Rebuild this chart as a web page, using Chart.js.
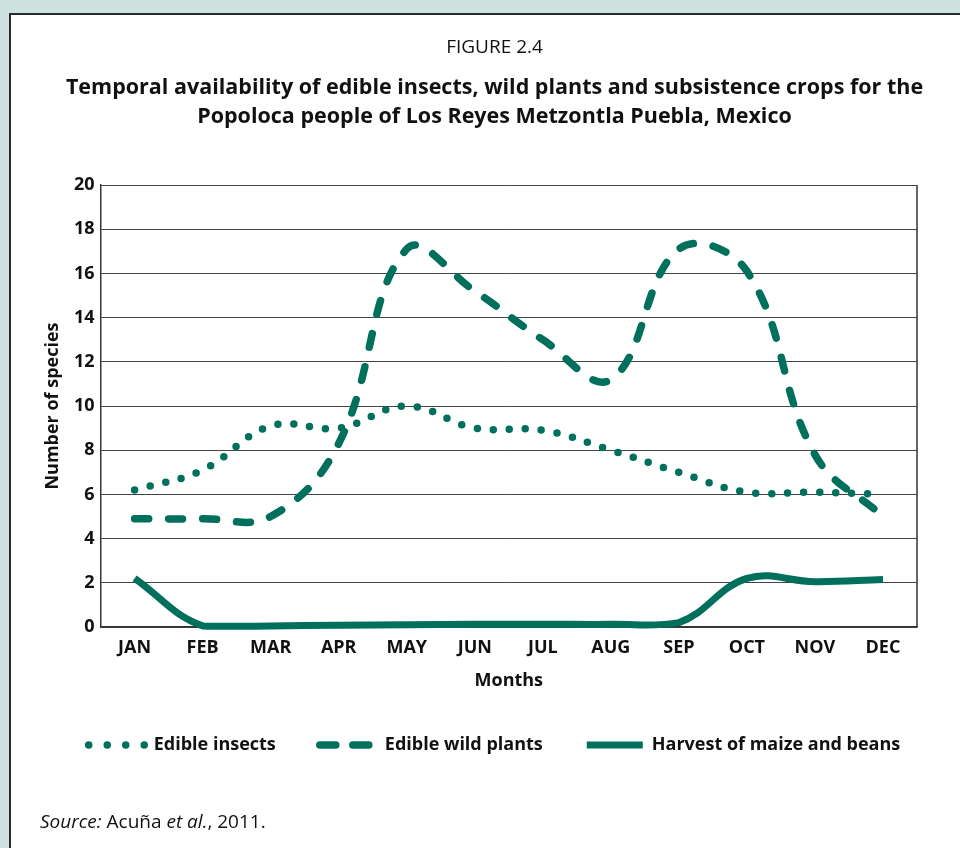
<!DOCTYPE html>
<html>
<head>
<meta charset="utf-8">
<script src="https://cdn.jsdelivr.net/npm/chart.js@4.4.1/dist/chart.umd.min.js"></script>
<style>
  html, body { margin: 0; padding: 0; }
  body { width: 960px; height: 848px; background: #cde2de; position: relative; overflow: hidden; font-family: 'Open Sans', sans-serif; }
  #panel { position: absolute; left: 9px; top: 13px; right: 0; bottom: 0; background: #fff; border-top: 2px solid #2a2a2a; border-left: 2px solid #2a2a2a; }
  #wrap { position: absolute; left: 0; top: 0; width: 960px; height: 848px; }
  #source { position: absolute; left: 40px; top: 808px; font-size: 19px; color: #111; }
</style>
</head>
<body>
<div id="panel"></div>
<div id="wrap"><canvas id="chart"></canvas></div>
<div id="source"><i>Source:</i> Acuña <i>et al.</i>, 2011.</div>
<script>
var months = ['JAN', 'FEB', 'MAR', 'APR', 'MAY', 'JUN', 'JUL', 'AUG', 'SEP', 'OCT', 'NOV', 'DEC'];
var insects = [6.2, 7.1, 9.1, 9.0, 10, 9, 8.9, 8, 7, 6.1, 6.1, 6];
var wildPlants = [4.9, 4.9, 5.0, 8.3, 17.1, 15.2, 13, 11.2, 17.1, 16.1, 7.8, 5];
var harvest = [2.2, 0.05, 0.05, 0.08, 0.1, 0.12, 0.13, 0.12, 0.2, 2.2, 2.05, 2.15];

var green = '#00705d';
var font = 'Open Sans';
// dash patterns of the legend samples (a little looser than on the plot)
var legendDash = [[0, 18.5], [16, 17], []];

// right edge of the plot frame
var frame = {
  id: 'frame',
  afterDatasetsDraw: function(chart) {
    var a = chart.chartArea, c = chart.ctx;
    c.save();
    c.strokeStyle = '#333';
    c.lineWidth = 1.5;
    c.beginPath();
    c.moveTo(a.right, a.top);
    c.lineTo(a.right, a.bottom);
    c.stroke();
    c.restore();
  }
};

// legend samples keep the dataset's line style
function legendLabels(chart) {
  var items = Chart.defaults.plugins.legend.labels.generateLabels(chart);
  items.forEach(function(item) {
    var ds = chart.data.datasets[item.datasetIndex];
    item.lineDash = legendDash[item.datasetIndex];
    item.lineCap = ds.borderCapStyle || 'butt';
    item.lineWidth = ds.borderWidth;
    item.strokeStyle = ds.borderColor;
  });
  return items;
}

function createChart() {
  var ctx = document.getElementById('chart').getContext('2d');
  new Chart(ctx, {
    type: 'line',
    data: {
      labels: months,
      datasets: [{
        label: 'Edible insects',
        data: insects,
        borderColor: green,
        backgroundColor: green,
        borderWidth: 7.5,
        borderDash: [0, 16],
        borderCapStyle: 'round',
        tension: 0.4,
        pointRadius: 0,
        clip: 10
      }, {
        label: 'Edible wild plants',
        data: wildPlants,
        borderColor: green,
        backgroundColor: green,
        borderWidth: 7.5,
        borderDash: [14, 20],
        borderCapStyle: 'round',
        tension: 0.4,
        pointRadius: 0,
        clip: 10
      }, {
        label: 'Harvest of maize and beans',
        data: harvest,
        borderColor: green,
        backgroundColor: green,
        borderWidth: 7,
        tension: 0.4,
        pointRadius: 0,
        clip: 10
      }]
    },
    options: {
      responsive: true,
      maintainAspectRatio: false,
      animation: false,
      layout: { padding: { left: 39, right: 10, top: 0, bottom: 84 } },
      plugins: {
        title: {
          display: true,
          text: 'FIGURE 2.4',
          color: '#111',
          font: { family: font, size: 19, weight: 'normal' },
          padding: { top: 36.6, bottom: 12 }
        },
        subtitle: {
          display: true,
          text: ['Temporal availability of edible insects, wild plants and subsistence crops for the',
                 'Popoloca people of Los Reyes Metzontla Puebla, Mexico'],
          color: '#111',
          font: { family: font, size: 21.5, weight: 'bold', lineHeight: 29 / 21.5 },
          padding: { top: 2, bottom: 53.6 }
        },
        legend: {
          position: 'bottom',
          labels: {
            usePointStyle: true,
            pointStyle: 'line',
            pointStyleWidth: 56,
            boxHeight: 8,
            padding: 44,
            color: '#111',
            font: { family: font, size: 18, weight: 'bold' },
            generateLabels: legendLabels
          }
        },
        tooltip: { enabled: false }
      },
      scales: {
        x: {
          offset: true,
          grid: { display: false, drawTicks: false },
          border: { display: true, color: '#333', width: 1.5 },
          ticks: { color: '#111', padding: 10, font: { family: font, size: 18, weight: 'bold' } },
          title: {
            display: true,
            text: 'Months',
            color: '#111',
            font: { family: font, size: 18, weight: 'bold' },
            padding: { top: 1.8, bottom: 0 }
          }
        },
        y: {
          min: 0,
          max: 20,
          grid: { color: '#444', lineWidth: 1, drawTicks: false },
          border: { display: true, color: '#333', width: 1.5 },
          ticks: { stepSize: 2, color: '#111', padding: 6, font: { family: font, size: 18, weight: 'bold' } },
          title: {
            display: true,
            text: 'Number of species',
            color: '#111',
            font: { family: font, size: 18, weight: 'bold' },
            padding: { top: 3, bottom: 4.4 }
          }
        },
        // empty right-hand spacer so the plot ends where the reference's does
        yRight: {
          position: 'right',
          grid: { display: false, drawTicks: false },
          border: { display: false },
          ticks: { display: false },
          afterFit: function(scale) { scale.width = 33; }
        }
      }
    },
    plugins: [frame]
  });
}

window.addEventListener('load', function() {
  createChart();
});
</script>
</body>
</html>
